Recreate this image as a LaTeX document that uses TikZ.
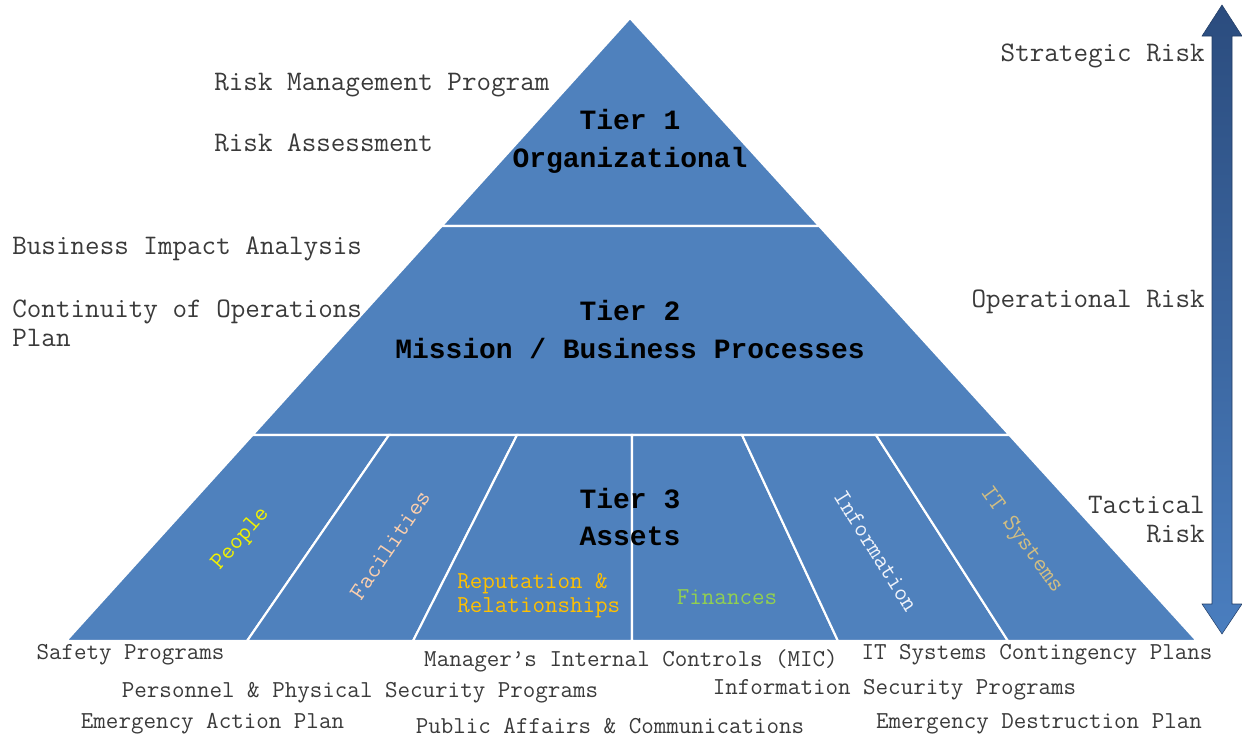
\documentclass[tikz,border=0pt]{standalone}
\usepackage{fontspec}
\setmainfont{Liberation Mono}
\definecolor{tierblue}{HTML}{4F81BD}
\definecolor{labelgray}{HTML}{3A3A3A}
\definecolor{arrowtop}{HTML}{2B4C7E}
\definecolor{arrowbot}{HTML}{4A7EBF}
\definecolor{peoplecol}{HTML}{F2F200}
\definecolor{facilcol}{HTML}{FBCFAE}
\definecolor{repcol}{HTML}{FFC000}
\definecolor{fincol}{HTML}{92D050}
\definecolor{infocol}{HTML}{EEF2FA}
\definecolor{itcol}{HTML}{D2BE82}
\newcommand{\riskfont}{\ttfamily\fontsize{16.1}{16.5}\selectfont}
\newcommand{\tierfont}{\bfseries\fontsize{15.9}{21.6}\selectfont}
\newcommand{\planfont}{\ttfamily\fontsize{13.85}{13.7}\selectfont}
\tikzset{
	tier/.style={draw=white, line width=1.2pt, fill=tierblue, line join=miter},
	tiertext/.style={inner sep=0pt, align=center, font=\tierfont},
	risktext/.style={inner sep=0pt, text=labelgray, font=\riskfont},
	plantext/.style={inner sep=0pt, text=labelgray, font=\planfont},
	assettext/.style={inner sep=0pt, font=\planfont}
}
\begin{document}
\begin{tikzpicture}[x=0.02cm,y=-0.02cm]
		\useasboundingbox (0,0) rectangle (1242,738);
		\coordinate(A) at (630,18);
		\coordinate(BL) at (66,641);
		\coordinate(BR) at (1197,641);
		\draw[tier] (A) -- (819.3,226) -- (441.7,226) -- cycle;
		\draw[tier] (441.7,226) -- (819.3,226) -- (1009.5,435) -- (252.5,435) -- cycle;
		\foreach \xa/\xb/\xc/\xd in {252.5/389/247/66, 389/517/413/247, 517/632/632/413, 632/742/838/632, 742/876/1008/838, 876/1009.5/1197/1008}
			\draw[tier] (\xa,435) -- (\xb,435) -- (\xc,641) -- (\xd,641) -- cycle;
		\node[tiertext] (tier1) at (630,141) {Tier 1\\Organizational};
		\node[tiertext] (tier2) at (630,329.5) {Tier 2\\Mission / Business Processes};
		\node[tiertext] (tier3) at (630,517) {Tier 3\\Assets};
		\node[assettext, text=peoplecol, rotate=49] (people) at (241,539) {People};
		\node[assettext, text=facilcol, rotate=56] (facil) at (390,545) {Facilities};
		\node[assettext, text=repcol, align=left, anchor=west] (rep) at (457,596) {Reputation \&\\Relationships};
		\node[assettext, text=fincol] (fin) at (727,597) {Finances};
		\node[assettext, text=infocol, rotate=-58] (info) at (876,551) {Information};
		\node[assettext, text=itcol, rotate=-54] (itsys) at (1021,540) {IT Systems};
		\node[risktext, anchor=west] (rmp) at (214,85) {Risk Management Program};
		\node[risktext, anchor=west] (ra) at (214,143) {Risk Assessment};
		\node[risktext, anchor=west] (bia) at (12,249) {Business Impact Analysis};
		\node[risktext, anchor=west, align=left] (coop) at (12,323.5) {Continuity of Operations\\Plan};
		\node[risktext, anchor=east] (strat) at (1205,56) {Strategic Risk};
		\node[risktext, anchor=east] (oper) at (1205,302) {Operational Risk};
		\node[risktext, anchor=east, align=right] (tact) at (1205,519.5) {Tactical\\Risk};
		\shade[top color=arrowtop, bottom color=arrowbot, draw=arrowtop!80!black, line width=0.3pt] (1222,5) -- (1242,36) -- (1232,36) -- (1232,604) -- (1242,604) -- (1222,634) -- (1202,604) -- (1212,604) -- (1212,36) -- (1202,36) -- cycle;
		\node[plantext] (safety) at (130.5,655) {Safety Programs};
		\node[plantext] (mic) at (631,661) {Manager’s Internal Controls (MIC)};
		\node[plantext] (itcp) at (1037,655) {IT Systems Contingency Plans};
		\node[plantext] (pps) at (360,693) {Personnel \& Physical Security Programs};
		\node[plantext] (isp) at (894.5,690) {Information Security Programs};
		\node[plantext] (eap) at (212.5,724) {Emergency Action Plan};
		\node[plantext] (pac) at (610,726) {Public Affairs \& Communications};
		\node[plantext] (edp) at (1039,724) {Emergency Destruction Plan};
	\end{tikzpicture}
\end{document}
